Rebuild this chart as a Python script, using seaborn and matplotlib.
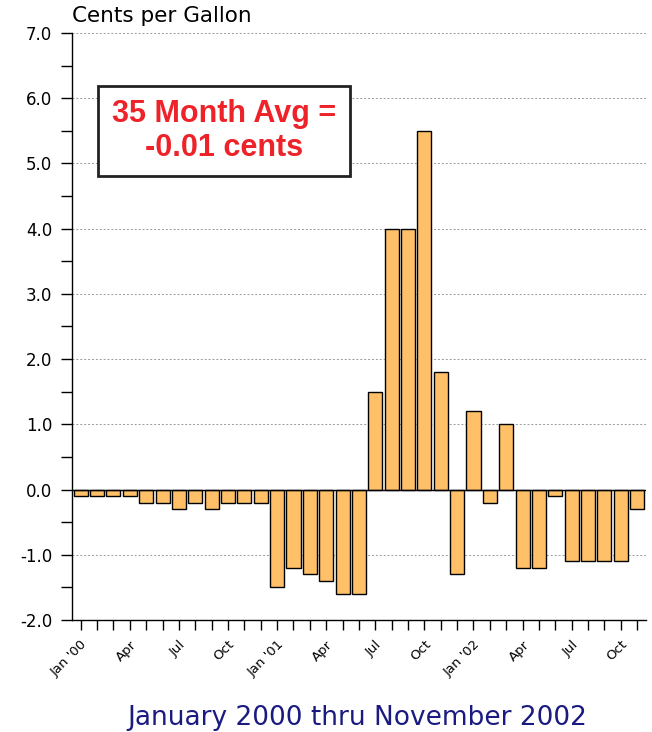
import matplotlib
matplotlib.use("Agg")
import matplotlib.pyplot as plt
import seaborn as sns
import numpy as np
from matplotlib.ticker import MultipleLocator, FormatStrFormatter

sns.set_style("white")
plt.rcParams['font.family'] = ['DejaVu Sans']
plt.rcParams['text.color'] = 'black'
plt.rcParams['xtick.color'] = 'black'
plt.rcParams['ytick.color'] = 'black'

# monthly values, Jan 2000 - Nov 2002 (cents per gallon)
months = ["Jan '00", "Feb", "Mar", "Apr", "May", "Jun", "Jul", "Aug", "Sep", "Oct", "Nov", "Dec",
          "Jan '01", "Feb", "Mar", "Apr", "May", "Jun", "Jul", "Aug", "Sep", "Oct", "Nov", "Dec",
          "Jan '02", "Feb", "Mar", "Apr", "May", "Jun", "Jul", "Aug", "Sep", "Oct", "Nov"]
values = [-0.1, -0.1, -0.1, -0.1, -0.2, -0.2, -0.3, -0.2, -0.3, -0.2, -0.2, -0.2,
          -1.5, -1.2, -1.3, -1.4, -1.6, -1.6, 1.5, 4.0, 4.0, 5.5, 1.8, -1.3,
          1.2, -0.2, 1.0, -1.2, -1.2, -0.1, -1.1, -1.1, -1.1, -1.1, -0.3]

fig = plt.figure(figsize=(6.52, 7.32), dpi=100)
ax = fig.add_axes([0.110, 0.153, 0.881, 0.802])

x = np.arange(len(values))
sns.barplot(x=x, y=values, color="#FFC068", saturation=1, edgecolor="black",
            linewidth=1.0, width=0.86, ax=ax, zorder=3)

ax.set_ylim(-2, 7)
ax.set_xlim(-0.55, len(values) - 0.45)
ax.yaxis.set_major_locator(MultipleLocator(1))
ax.yaxis.set_minor_locator(MultipleLocator(0.5))
ax.yaxis.set_major_formatter(FormatStrFormatter('%.1f'))
ax.grid(axis='y', which='major', color='#999999', linestyle=(0, (2, 2)), linewidth=0.7, zorder=0)
ax.axhline(0, color='black', linewidth=1.0, zorder=4)

ax.set_xticks(x)
ax.set_xticklabels([m if i % 3 == 0 else "" for i, m in enumerate(months)],
                   rotation=45, ha='right', va='top', rotation_mode='anchor', fontsize=9.5)
ax.tick_params(axis='x', direction='out', length=7, width=1, pad=6, bottom=True,
               colors='black')
ax.tick_params(axis='y', which='both', direction='out', length=8, width=1, left=True,
               labelsize=12, pad=6, colors='black')

for s in ['top', 'right']:
    ax.spines[s].set_visible(False)
for s in ['left', 'bottom']:
    ax.spines[s].set_color('black')
    ax.spines[s].set_linewidth(1.0)
ax.set_xlabel("")
ax.set_ylabel("")

fig.text(0.110, 0.970, "Cents per Gallon", fontsize=15.5, ha='left', va='baseline',
         color='black')
ax.text(0.265, 0.833, "35 Month Avg =\n-0.01 cents", transform=ax.transAxes,
        fontsize=22, fontweight='bold', color='#EE2229', ha='center', va='center',
        linespacing=1.15, family='Liberation Sans',
        bbox=dict(boxstyle='square,pad=0.45', facecolor='white', edgecolor='#222222', linewidth=2),
        zorder=6)
fig.text(0.548, 0.019, "January 2000 thru November 2002", fontsize=19,
         color='#1A1A80', ha='center', va='center')

fig.savefig("out.png", dpi=100)
